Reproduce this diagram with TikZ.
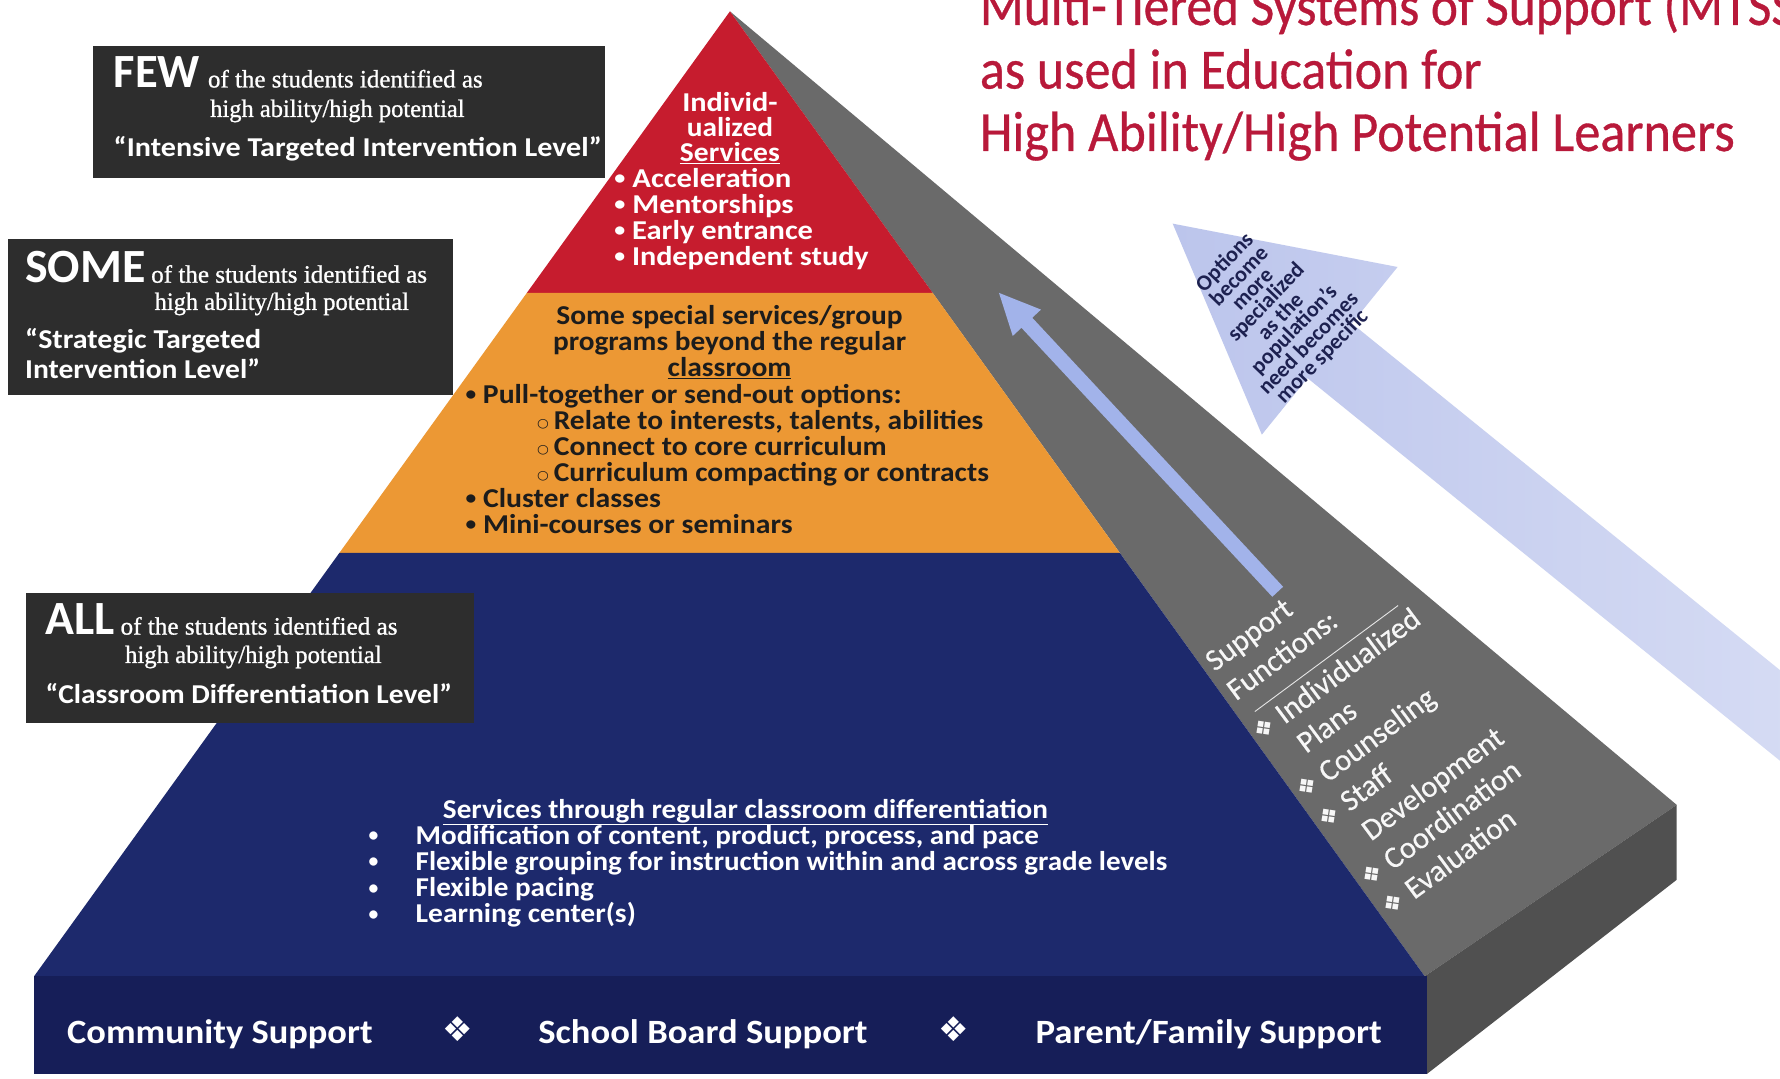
\documentclass[tikz,border=0pt]{standalone}
\usepackage{fontspec}
\usepackage{graphicx}
\setmainfont{Carlito}
\newfontfamily\serf[FakeBold=0.9]{Liberation Serif}
\newfontfamily\djv{DejaVu Sans}
\newfontfamily\semib[FakeBold=0.6]{Carlito}
\newfontfamily\grayf[FakeBold=0.35]{Carlito}
\newcommand\fs[1]{\fontsize{#1}{#1}\selectfont}
\newcommand\fw[2]{\resizebox{#1pt}{\height}{#2}}
\newcommand\bul{\raisebox{0.1em}{\scalebox{0.72}{•}}}
\newcommand\circb{\raisebox{1.5pt}{\djv\fs{11}○}}
\definecolor{tred}{HTML}{C61C2E}
\definecolor{torange}{HTML}{EC9834}
\definecolor{tnavy}{HTML}{1D296C}
\definecolor{tband}{HTML}{161E58}
\definecolor{tgray}{HTML}{6A6A6A}
\definecolor{tslab}{HTML}{505050}
\definecolor{tlabel}{HTML}{2D2D2D}
\definecolor{ttitle}{HTML}{B8193A}
\definecolor{tarrowA}{HTML}{BCC5EC}
\definecolor{tarrowB}{HTML}{DDE2F6}
\definecolor{tsmall}{HTML}{A2B3EA}
\definecolor{tdark}{HTML}{1C1C1C}
\definecolor{tarrowtxt}{HTML}{1D2150}
\begin{document}
\begin{tikzpicture}[x=1pt,y=-1pt,
  t/.style={inner sep=0pt, anchor=base west},
  tc/.style={inner sep=0pt, anchor=base},
  labelbox/.style={fill=tlabel, inner sep=0pt, anchor=north west},
  wb/.style={text=white, font=\bfseries\fs{24}},
  wbig/.style={text=white, font=\bfseries\fs{42}},
  wser/.style={text=white, font=\serf\fs{22}},
  db/.style={text=tdark, font=\bfseries\fs{24}},
  band/.style={text=white, font=\bfseries\fs{30}},
  gt/.style={text=white!94!gray, font=\grayf\fs{27}},
  gbul/.style={text=white!94!gray, font=\djv\fs{21}},
  ttl/.style={text=ttitle, font=\semib\fs{50}}]
\useasboundingbox (0,0) rectangle (1568,950);
\fill[white] (0,0) rectangle (1568,950);

% big light arrow
\begin{scope}
\clip (0,0) rectangle (1568,950);
\begin{scope}[shift={(1033,197)}, rotate=-39]
\shade[left color=tarrowA, right color=tarrowB] (0,0) -- (178,-95) -- (178,-31) -- (900,-31) -- (900,31) -- (178,31) -- (178,95) -- cycle;
\end{scope}
\end{scope}

% pyramid side face and slab side
\fill[tgray] (643,10) -- (1477,709) -- (1255,860) -- cycle;
\fill[tslab] (1255,860) -- (1477,709) -- (1477,775) -- (1257,946) -- cycle;
% front face tiers
\fill[tred] (643,10) -- (821.6,258) -- (464.1,258) -- cycle;
\fill[torange] (464.1,258) -- (821.6,258) -- (986.4,487) -- (299,487) -- cycle;
\fill[tnavy] (299,487) -- (986.4,487) -- (1255,860) -- (30,860) -- cycle;
\fill[tband] (30,860) rectangle (1257,946);

% small arrow in side face
\begin{scope}[shift={(880,258)}, rotate=-47]
\fill[tsmall] (0,0) -- (36,-17) -- (36,-6.5) -- (360,-6.5) -- (360,6.5) -- (36,6.5) -- (36,17) -- cycle;
\end{scope}

% title
\begin{scope}
\clip (0,0) rectangle (1568,950);
\node[t, ttl] (ti1) at (863,22) {\scalebox{0.905}[1]{Multi-Tiered Systems of Support (MTSS)}};
\end{scope}
\node[t, ttl] (ti2) at (863,78) {\fw{442}{as used in Education for}};
\node[t, ttl] (ti3) at (863,133) {\fw{665}{High Ability/High Potential Learners}};

% label boxes
\node[labelbox, minimum width=451pt, minimum height=117pt] (fewbox) at (82,40) {};
\node[t, wbig] (fewW) at (100,77) {\fw{76}{FEW}};
\node[t, wser] (fewA) at (183,77) {\fw{242}{of the students identified as}};
\node[t, wser] (fewB) at (185,103) {\fw{224}{high ability/high potential}};
\node[t, wb] (fewC) at (100,138) {\fw{430}{“Intensive Targeted Intervention Level”}};

\node[labelbox, minimum width=392pt, minimum height=138pt] (somebox) at (7,210) {};
\node[t, wbig] (someW) at (22,249) {\fw{106}{SOME}};
\node[t, wser] (someA) at (133,249) {\fw{243}{of the students identified as}};
\node[t, wser] (someB) at (136,273) {\fw{224}{high ability/high potential}};
\node[t, wb] (someC) at (22,307) {\fw{208}{“Strategic Targeted}};
\node[t, wb] (someD) at (22,333) {\fw{207}{Intervention Level”}};

\node[labelbox, minimum width=394pt, minimum height=115pt] (allbox) at (23,522) {};
\node[t, wbig] (allW) at (40,559) {\fw{61}{ALL}};
\node[t, wser] (allA) at (106,559) {\fw{244}{of the students identified as}};
\node[t, wser] (allB) at (110,584) {\fw{226}{high ability/high potential}};
\node[t, wb] (allC) at (40,620) {\fw{358}{“Classroom Differentiation Level”}};

% red tier
\node[tc, wb] (r1) at (643,98) {\fw{84}{Individ-}};
\node[tc, wb] (r2) at (643,120) {\fw{76}{ualized}};
\node[tc, wb] (r3) at (643,142) {\fw{88}{\underline{Services}}};
\node[t, wb] (r4) at (541,165) {\fw{156}{\bul\ Acceleration}};
\node[t, wb] (r5) at (541,188) {\fw{158}{\bul\ Mentorships}};
\node[t, wb] (r6) at (541,211) {\fw{175}{\bul\ Early entrance}};
\node[t, wb] (r7) at (541,234) {\fw{224}{\bul\ Independent study}};

% orange tier
\node[t, db] (o1) at (490,286) {\fw{305}{Some special services/group}};
\node[t, db] (o2) at (487,309) {\fw{311}{programs beyond the regular}};
\node[t, db] (o3) at (588,332) {\fw{109}{\underline{classroom}}};
\node[t, db] (o4) at (410,355) {\fw{384}{\bul\ Pull-together or send-out options:}};
\node[t, db] (o5) at (473,378) {\fw{393}{\circb\,Relate to interests, talents, abilities}};
\node[t, db] (o6) at (473,401) {\fw{308}{\circb\,Connect to core curriculum}};
\node[t, db] (o7) at (473,424) {\fw{398}{\circb\,Curriculum compacting or contracts}};
\node[t, db] (o8) at (410,447) {\fw{172}{\bul\ Cluster classes}};
\node[t, db] (o9) at (410,470) {\fw{288}{\bul\ Mini-courses or seminars}};

% navy tier
\node[t, wb] (n0) at (390,721) {\fw{533}{\underline{Services through regular classroom differentiation}}};
\node[tc, wb] (nb1) at (329,744) {\bul};
\node[tc, wb] (nb2) at (329,767) {\bul};
\node[tc, wb] (nb3) at (329,790) {\bul};
\node[tc, wb] (nb4) at (329,813) {\bul};
\node[t, wb] (n1) at (366,744) {\fw{549}{Modification of content, product, process, and pace}};
\node[t, wb] (n2) at (366,767) {\fw{662}{Flexible grouping for instruction within and across grade levels}};
\node[t, wb] (n3) at (366,790) {\fw{157}{Flexible pacing}};
\node[t, wb] (n4) at (366,813) {\fw{194}{Learning center(s)}};

% base band
\node[t, band] (c1) at (59,919) {\fw{269}{Community Support}};
\node[text=white, font=\djv\fs{30}, inner sep=0pt] (d1) at (403,907) {❖};
\node[t, band] (c2) at (474,919) {\fw{290}{School Board Support}};
\node[text=white, font=\djv\fs{30}, inner sep=0pt] (d2) at (840,907) {❖};
\node[t, band] (c3) at (912,919) {\fw{305}{Parent/Family Support}};

% side face text
\begin{scope}[shift={(1228,806)}, rotate=36.5, every node/.append style={transform shape}]
\node[t, gt] (g1) at (0,-266) {Support};
\node[t, gt] (g2) at (0,-234) {Functions:};
\coordinate (sepA) at (8,-217);
\coordinate (sepB) at (165,-217);
\draw[white!80!gray, line width=0.8pt] (sepA) -- (sepB);
\node[t, gbul] (gb1) at (-4,-193) {❖};
\node[t, gt] (g3) at (22,-192) {Individualized};
\node[t, gt] (g4) at (22,-160) {Plans};
\node[t, gbul] (gb2) at (-4,-129) {❖};
\node[t, gt] (g5) at (22,-128) {Counseling};
\node[t, gbul] (gb3) at (-4,-97) {❖};
\node[t, gt] (g6) at (22,-96) {Staff};
\node[t, gt] (g7) at (22,-64) {Development};
\node[t, gbul] (gb4) at (-4,-33) {❖};
\node[t, gt] (g8) at (22,-32) {Coordination};
\node[t, gbul] (gb5) at (-4,-1) {❖};
\node[t, gt] (g9) at (22,0) {Evaluation};
\end{scope}

% arrow text
\node[font=\bfseries\fontsize{19.5}{16.5}\selectfont, text=tarrowtxt, align=center, rotate=46, inner sep=0pt] (opt) at (1122,273) {Options\\become\\more\\specialized\\as the\\population’s\\need becomes\\more specific};
\end{tikzpicture}
\end{document}
